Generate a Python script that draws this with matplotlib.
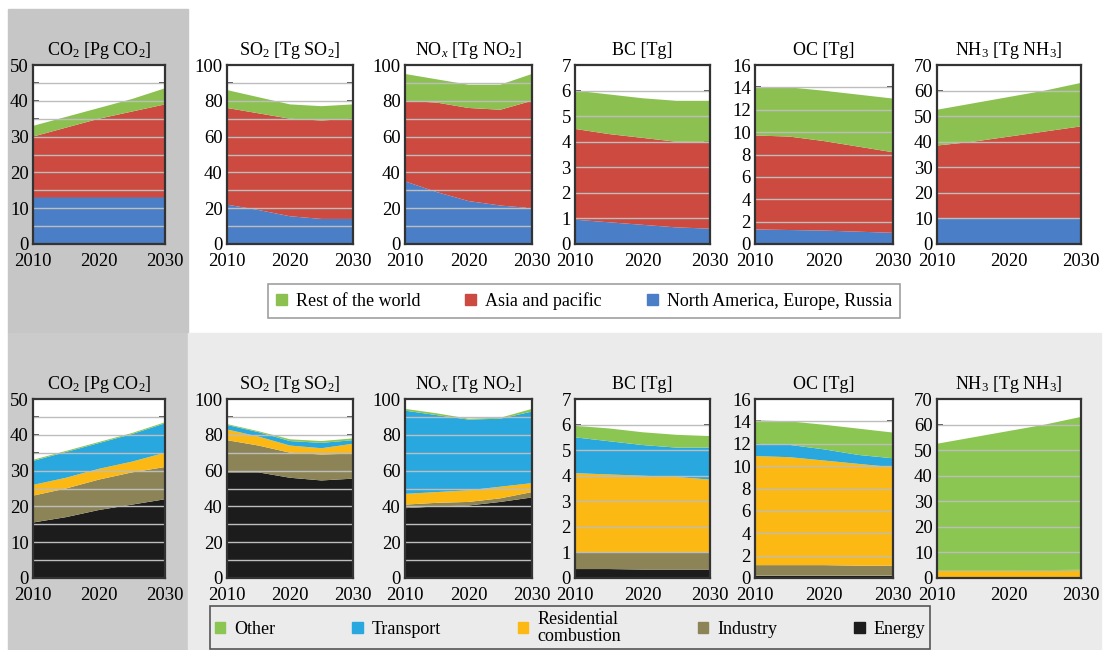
import matplotlib
matplotlib.use("Agg")
import matplotlib.pyplot as plt
from matplotlib.patches import Rectangle, Patch
import numpy as np

plt.rcParams['font.family'] = ['Liberation Serif', 'DejaVu Serif']
plt.rcParams['mathtext.fontset'] = 'custom'
plt.rcParams['mathtext.rm'] = 'Liberation Serif'
plt.rcParams['mathtext.it'] = 'Liberation Serif:italic'

years = [2010, 2015, 2020, 2025, 2030]

titles = ['CO$_2$ [Pg CO$_2$]', 'SO$_2$ [Tg SO$_2$]', 'NO$_x$ [Tg NO$_2$]',
          'BC [Tg]', 'OC [Tg]', 'NH$_3$ [Tg NH$_3$]']
ymax = [50, 100, 100, 7, 16, 70]
ymajor = [10, 20, 20, 1, 2, 10]
ygrid = [5, 10, 10, 1, 2, 10]

# top row: by region
region_names = ['Rest of the world', 'Asia and pacific', 'North America, Europe, Russia']
region_colors = ['#8cc152', '#cc4a40', '#4a7fc8']
nam = [[13, 13, 13, 13, 13],
       [22, 19, 15.5, 14, 14],
       [35, 29, 24, 21.5, 20],
       [0.95, 0.85, 0.75, 0.65, 0.6],
       [1.3, 1.25, 1.2, 1.1, 1.0],
       [10, 10, 10, 10, 10]]
asia = [[17, 19.5, 22, 24, 26],
        [54, 54, 54.5, 55, 56],
        [45, 50, 52, 53.5, 60],
        [3.55, 3.45, 3.4, 3.35, 3.4],
        [8.4, 8.35, 8.0, 7.6, 7.2],
        [28.5, 30, 32, 34, 36]]
rest = [[3, 3, 3, 3.5, 4.5],
        [10, 9, 8, 8, 8],
        [15, 13, 13, 14, 15],
        [1.5, 1.55, 1.55, 1.6, 1.6],
        [4.3, 4.4, 4.5, 4.65, 4.8],
        [14, 15, 15.5, 16, 17]]

# bottom row: by sector
sector_names = ['Other', 'Transport', 'Residential\ncombustion', 'Industry', 'Energy']
sector_colors = ['#8cc652', '#29a8e0', '#fdb913', '#8c8456', '#1c1c1c']
energy = [[15.5, 17, 19, 20.5, 22],
          [59, 59, 56, 54.5, 55.5],
          [39, 40, 40.5, 42.5, 45],
          [0.35, 0.35, 0.33, 0.33, 0.33],
          [0.2, 0.2, 0.2, 0.2, 0.2],
          [0.1, 0.1, 0.1, 0.1, 0.1]]
industry = [[7.5, 8, 8.5, 9, 9],
            [18, 15, 14, 14.5, 14],
            [2, 2, 2, 2, 3],
            [0.65, 0.65, 0.67, 0.67, 0.67],
            [0.95, 0.95, 0.95, 0.9, 0.9],
            [0.3, 0.3, 0.3, 0.3, 0.3]]
residential = [[3, 3, 3, 3, 4],
               [6, 5, 4, 3.5, 5.5],
               [6, 6, 6.5, 6.5, 5],
               [3.1, 3.05, 3.0, 2.95, 2.85],
               [9.75, 9.65, 9.35, 9.1, 8.8],
               [2.4, 2.4, 2.4, 2.5, 2.6]]
transport = [[6.7, 7.2, 7.2, 7.7, 8.2],
             [2.5, 2.5, 2.5, 3, 2],
             [46.5, 43, 39.5, 38, 40],
             [1.4, 1.3, 1.2, 1.15, 1.25],
             [1.1, 1.1, 1.0, 0.8, 0.8],
             [0.2, 0.2, 0.2, 0.2, 0.2]]
other = [[0.3, 0.3, 0.3, 0.3, 0.3],
         [0.5, 0.5, 1, 1, 1],
         [1, 1, 0.5, 0.5, 1.5],
         [0.45, 0.5, 0.5, 0.5, 0.45],
         [2.1, 2.1, 2.2, 2.35, 2.3],
         [49.5, 52, 54.5, 56.9, 59.8]]

W, H = 1109, 650
fig = plt.figure(figsize=(W / 100, H / 100), dpi=100)

# panel backgrounds
def px_rect(x0, y0, x1, y1, color):
    fig.patches.append(Rectangle((x0 / W, 1 - y1 / H), (x1 - x0) / W, (y1 - y0) / H,
                                 transform=fig.transFigure, color=color, zorder=-10))

px_rect(8, 9, 188, 333, '#c6c6c6')
px_rect(8, 333, 188, 650, '#cbcbcb')
px_rect(188, 333, 1101, 650, '#ebebeb')

lefts = [33, 227, 405, 575, 755, 937]
rights = [165, 353, 532, 710, 893, 1081]


def make_axes(i, top, bottom):
    ax = fig.add_axes([lefts[i] / W, 1 - bottom / H, (rights[i] - lefts[i]) / W, (bottom - top) / H])
    ax.set_facecolor('white')
    return ax


def style(ax, i, xtick_color):
    ax.set_xlim(2010, 2030)
    ax.set_ylim(0, ymax[i])
    for y in np.arange(ygrid[i], ymax[i], ygrid[i]):
        ax.axhline(y, color='#bdbdbd', lw=1.0, zorder=3)
    ax.set_yticks(np.arange(0, ymax[i] + 0.01, ymajor[i]))
    ax.set_yticks(np.arange(0, ymax[i] + 0.01, ygrid[i]), minor=True)
    ax.tick_params(axis='y', which='both', direction='in', length=4, width=1.2,
                   left=True, right=True, color='#333333', labelsize=13.5, pad=3)
    ax.set_xticks([2010, 2020, 2030])
    ax.set_xticks([2015, 2020, 2025], minor=True)
    ax.xaxis.remove_overlapping_locs = False
    ax.tick_params(axis='x', which='major', length=0, labelsize=13.5, pad=6.5)
    ax.tick_params(axis='x', which='minor', direction='in', length=3, width=1.5,
                   color=xtick_color)
    for s in ax.spines.values():
        s.set_color('#333333')
        s.set_linewidth(1.6)
        s.set_zorder(5)
    ax.set_title(titles[i], fontsize=13, pad=7)


for i in range(6):
    ax = make_axes(i, 65, 244)
    ax.stackplot(years, nam[i], asia[i], rest[i],
                 colors=region_colors[::-1], lw=0, zorder=2)
    style(ax, i, '#333333')

    ax = make_axes(i, 399, 578)
    ax.stackplot(years, energy[i], industry[i], residential[i], transport[i], other[i],
                 colors=sector_colors[::-1], lw=0, zorder=2)
    style(ax, i, 'white')

# legends
h_top = [Patch(color=c) for c in region_colors]
leg1 = fig.legend(h_top, region_names, loc='lower left', ncol=3, mode='expand',
                  bbox_to_anchor=(268 / W, 1 - 318 / H, (900 - 268) / W, 36 / H),
                  fontsize=13, frameon=True, fancybox=False, edgecolor='#888888',
                  handlelength=0.6, handleheight=0.6, handletextpad=0.5,
                  borderaxespad=0, borderpad=0.45)
leg1.get_frame().set_linewidth(1.2)

h_bot = [Patch(color=c) for c in sector_colors]
leg2 = fig.legend(h_bot, sector_names, loc='upper left', ncol=5, mode='expand',
                  bbox_to_anchor=(210 / W, 1 - 700 / H, (930 - 210) / W, 94 / H),
                  fontsize=13, frameon=True, fancybox=False, edgecolor='#555555',
                  facecolor='#ebebeb', framealpha=1,
                  handlelength=0.6, handleheight=0.6, handletextpad=0.5,
                  borderaxespad=0, borderpad=0.25, labelspacing=0.2)
leg2.get_frame().set_linewidth(1.2)
for t in leg2.get_texts():
    t.set_linespacing(1.0)

fig.savefig('out.png', dpi=100)
